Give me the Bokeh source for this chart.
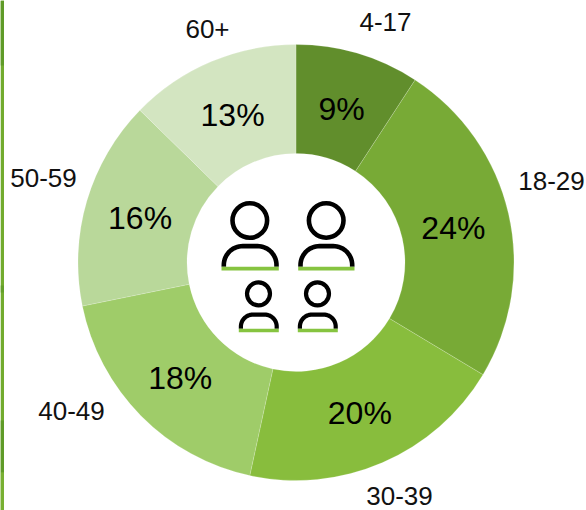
from math import pi, sin, cos

from bokeh.core.properties import value
from bokeh.embed import file_html
from bokeh.models import ColumnDataSource, Range1d
from bokeh.plotting import figure
from bokeh.resources import INLINE

age_groups = ["4-17", "18-29", "30-39", "40-49", "50-59", "60+"]
shares = [9.2, 24.4, 19.8, 18.4, 15.5, 12.7]
slice_colors = ["#618e2c", "#78aa36", "#88bd3d", "#9fcc69", "#b9d89a", "#d3e5c1"]

WIDTH, HEIGHT = 586, 510
CX, CY = 295.5, 248  # ring centre, y measured upward
R_OUT, R_IN, R_LABEL = 218, 109, 162
FONT = value("Liberation Sans")
ICON_GREEN = "#86c440"

# Category label anchors (x, y from the top of the page)
outer_label_xy = [(385, 21), (551, 180), (399, 495), (71, 410), (43, 177), (207, 28)]

# Darker patches on the page-edge stripe (top, bottom, colour), y from the top of the page
stripe_bands = [(0, 65, "#5f9b28"), (285, 292, "#639f2a"), (420, 472, "#5f9b28"),
                (472, 510, "#78b032")]

p = figure(width=WIDTH, height=HEIGHT, output_backend="svg", toolbar_location=None,
           x_range=Range1d(0, WIDTH), y_range=Range1d(0, HEIGHT),
           min_border=0, outline_line_color=None, background_fill_color="white")
p.axis.visible = False
p.grid.visible = False

p.quad(left=0, right=3.5, top=HEIGHT, bottom=0, fill_color="#72ab2e", line_color=None)
p.quad(left=0, right=3.5,
       top=[HEIGHT - b[0] for b in stripe_bands],
       bottom=[HEIGHT - b[1] for b in stripe_bands],
       fill_color=[b[2] for b in stripe_bands], line_color=None)

# Ring, clockwise from twelve o'clock
total = sum(shares)
starts, ends, mids = [], [], []
running = 0
for s in shares:
    a0 = pi / 2 - 2 * pi * running / total
    a1 = pi / 2 - 2 * pi * (running + s) / total
    starts.append(a0)
    ends.append(a1)
    mids.append((a0 + a1) / 2)
    running += s

ring = ColumnDataSource(dict(start=starts, end=ends, color=slice_colors))
p.annular_wedge(x=CX, y=CY, inner_radius=R_IN, outer_radius=R_OUT,
                start_angle="start", end_angle="end", direction="clock",
                fill_color="color", line_color="white", line_alpha=0.3,
                line_width=0.6, source=ring)

# Percent labels sit mid-ring, rounded to whole numbers
pct = ColumnDataSource(dict(
    x=[CX - 0.5 + R_LABEL * cos(m) for m in mids],
    y=[CY - 1.5 + R_LABEL * sin(m) for m in mids],
    text=[f"{s:.0f}%" for s in shares]))
p.text(x="x", y="y", text="text", source=pct, text_font=FONT, text_font_size="32px",
       text_color="black", text_align="center", text_baseline="middle")

outer = ColumnDataSource(dict(
    x=[xy[0] for xy in outer_label_xy],
    y=[HEIGHT - xy[1] for xy in outer_label_xy],
    text=age_groups))
p.text(x="x", y="y", text="text", source=outer, text_font=FONT, text_font_size="26px",
       text_color="#111111", text_align="center", text_baseline="middle")


def person(hx, hy, r, left, right, top, base, corner, stroke, bar):
    """Outline figure: round head, arched shoulders, green foot bar."""
    to_y = lambda v: HEIGHT - v
    p.circle(x=hx, y=to_y(hy), radius=r, fill_color=None, line_color="black",
             line_width=stroke)
    xs, ys = [left], [to_y(base)]
    n = 16
    for i in range(n + 1):
        t = pi + (pi / 2) * i / n
        xs.append(left + corner + corner * cos(t))
        ys.append(to_y(top + corner) + corner * -sin(t))
    for i in range(n + 1):
        t = 1.5 * pi + (pi / 2) * i / n
        xs.append(right - corner + corner * cos(t))
        ys.append(to_y(top + corner) + corner * -sin(t))
    xs.append(right)
    ys.append(to_y(base))
    p.line(xs, ys, line_color="black", line_width=stroke, line_join="round")
    half = stroke / 2
    p.quad(left=left - half, right=right + half, bottom=to_y(base + bar), top=to_y(base),
           fill_color=ICON_GREEN, line_color=None)


person(249.3, 220, 17.3, 223.3, 276, 245.6, 266.3, 19, 4.6, 3.7)
person(325.7, 220, 17.3, 300, 351.7, 245.6, 266.3, 19, 4.6, 3.7)
person(258, 293.3, 11.5, 240.4, 276.2, 314.1, 328.3, 12, 4.2, 3.4)
person(317, 293.3, 11.5, 299.4, 335.2, 314.1, 328.3, 12, 4.2, 3.4)

open("out.html", "w").write(file_html(p, INLINE))
